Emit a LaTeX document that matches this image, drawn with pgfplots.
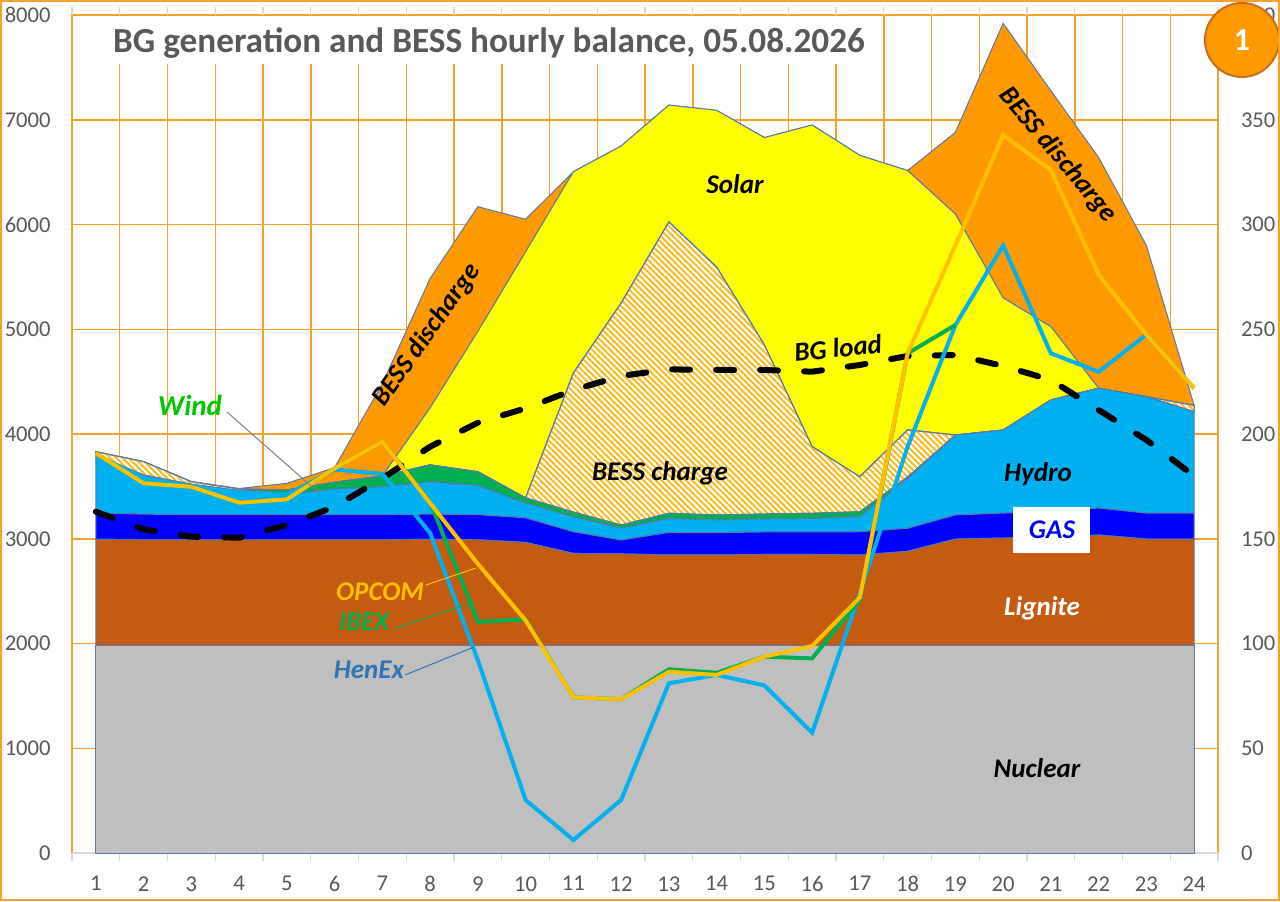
\documentclass[border=0pt]{standalone}
\usepackage{pgfplots}
\pgfplotsset{compat=1.18}
\usepackage{pgfplotstable}
\usepackage{fontspec}
\setmainfont{Carlito}
\usetikzlibrary{patterns.meta}

\definecolor{gridc}{RGB}{245,162,45}
\definecolor{nuc}{RGB}{191,191,191}
\definecolor{lig}{RGB}{197,90,17}
\definecolor{gas}{RGB}{0,0,255}
\definecolor{hyd}{RGB}{0,176,240}
\definecolor{wnd}{RGB}{0,176,80}
\definecolor{sol}{RGB}{255,255,0}
\definecolor{dis}{RGB}{255,153,0}
\definecolor{chg}{RGB}{250,188,35}
\definecolor{edge}{RGB}{90,120,170}
\definecolor{opcom}{RGB}{255,192,0}
\definecolor{ibex}{RGB}{0,176,80}
\definecolor{henex}{RGB}{0,176,240}
\definecolor{henextxt}{RGB}{46,117,182}
\definecolor{windtxt}{RGB}{0,200,0}
\definecolor{txtgray}{RGB}{89,89,89}
\definecolor{tickgray}{RGB}{217,217,217}
\definecolor{circedge}{RGB}{197,110,30}

% hourly generation by source, MW
\pgfplotstableread{
h nuc lig gas hyd wnd chg sol dis
1 1980 1015 250 555 0 31 0 0
2 1980 1010 245 358 15 128 0 0
3 1980 1010 240 283 7 25 0 0
4 1980 1010 240 220 10 15 0 5
5 1980 1010 240 197 38 0 0 64
6 1980 1010 240 245 64 0 0 141
7 1980 1010 240 267 103 0 0 880
8 1980 1015 240 310 160 0 545 1236
9 1980 1010 240 280 130 0 1340 1190
10 1980 985 235 140 50 0 2350 310
11 1980 880 207 143 45 1327 1922 0
12 1980 875 133 112 31 2119 1500 0
13 1980 865 215 135 48 2781 1116 0
14 1980 865 213 121 48 2367 1496 0
15 1980 870 215 125 46 1614 1980 0
16 1980 870 215 130 48 636 3071 0
17 1980 865 222 144 47 334 3068 0
18 1980 900 220 477 13 450 2475 0
19 1980 1017 230 763 0 0 2110 780
20 1980 1027 238 793 0 0 1262 2621
21 1980 1030 248 1067 0 0 699 2253
22 1980 1056 257 1144 0 0 0 2203
23 1980 1017 248 1111 0 0 0 1444
24 1980 1017 248 968 0 60 0 0
}\gen

% BG load (MW) and prices (EUR/MWh)
\pgfplotstableread{
h load opcom ibex henex
1 3258 190.8 190.8 190
2 3090 176.5 176.5 179
3 3020 174.8 174.8 175
4 3010 167.2 167.2 172
5 3130 168.8 168.8 171
6 3306 183.6 183.6 183
7 3577 196.3 196.3 181
8 3879 167 167.5 152.7
9 4108 138 110.4 92
10 4245 111 111.5 25.3
11 4420 74.3 74.3 6.2
12 4554 73.4 73.4 25.3
13 4617 86.5 87.7 81
14 4611 85 86 85
15 4611 93.7 93.7 80
16 4595 98.8 92.9 57.4
17 4659 122 121 124
18 4745 238.5 238.5 194
19 4754 290 252 252
20 4650 342.7 nan 290
21 4516 326 nan 238.5
22 4229 276 nan 229.7
23 3943 247.4 nan 247.4
24 3600 221.8 nan 221.8
}\lines

\pgfplotsset{
  myaxis/.style={at={(36pt,24pt)}, anchor=south west, scale only axis,
    width=573pt, height=419pt, xmin=0.5, xmax=24.5},
  area/.style={draw=edge, line width=0.5pt},
}
\newcommand\af{\fontsize{13.5}{16}\selectfont\bfseries\itshape}

\begin{document}
\begin{tikzpicture}[x=0.5pt,y=0.5pt]
\useasboundingbox (0,0) rectangle (1280,901);
\fill[white] (0,0) rectangle (1280,901);

% ---------- stacked areas ----------
\begin{axis}[myaxis, ymin=0, ymax=8000,
  stack plots=y,
  xtick={1,...,24}, minor xtick={0.5,1.5,...,24.5},
  ytick={0,1000,...,8000},
  ymajorgrids, xminorgrids,
  major grid style={draw=gridc, line width=0.75pt},
  minor grid style={draw=gridc, line width=0.75pt},
  axis line style={draw=none},
  major tick length=0pt, minor tick length=4pt, tick align=outside,
  minor tick style={draw=tickgray, line width=0.7pt},
  tick label style={font=\fontsize{11.3}{13}\selectfont, text=txtgray, inner sep=0pt},
  /pgf/number format/assume math mode=true,
  /pgf/number format/1000 sep={},
  xticklabel style={anchor=north, yshift=-11.5pt},
  yticklabel style={anchor=east, xshift=-10.5pt},
]
\addplot[area, fill=nuc] table[x=h,y=nuc]{\gen} \closedcycle;
\addplot[area, fill=lig] table[x=h,y=lig]{\gen} \closedcycle;
\addplot[area, fill=gas] table[x=h,y=gas]{\gen} \closedcycle;
\addplot[area, fill=hyd] table[x=h,y=hyd]{\gen} \closedcycle;
\addplot[area, fill=wnd] table[x=h,y=wnd]{\gen} \closedcycle;
\addplot[area, fill=white, postaction={pattern={Lines[angle=-45,distance=2.15pt,line width=1.05pt]},pattern color=chg}] table[x=h,y=chg]{\gen} \closedcycle;
\addplot[area, fill=sol] table[x=h,y=sol]{\gen} \closedcycle;
\addplot[area, fill=dis] table[x=h,y=dis]{\gen} \closedcycle;
\draw[tickgray, line width=0.8pt] (rel axis cs:0,0) -- (rel axis cs:1,0);
\end{axis}

% ---------- BG load ----------
\begin{axis}[myaxis, ymin=0, ymax=8000, hide axis]
\addplot[black, line width=3pt, line cap=round, dash pattern=on 9pt off 13pt] table[x=h,y=load]{\lines};
\end{axis}

% ---------- prices, right axis ----------
\begin{axis}[myaxis, ymin=0, ymax=400,
  axis y line*=right, axis x line=none,
  axis line style={draw=none},
  ytick={0,50,...,400}, major tick length=0pt,
  tick label style={font=\fontsize{11.3}{13}\selectfont, text=txtgray, inner sep=0pt},
  /pgf/number format/assume math mode=true,
  yticklabel style={anchor=west, xshift=11.3pt},
]
\addplot[henex, line width=2pt] table[x=h,y=henex]{\lines};
\addplot[ibex, line width=2pt] table[x=h,y=ibex]{\lines};
\addplot[opcom, line width=2pt] table[x=h,y=opcom]{\lines};
\end{axis}

% ---------- title ----------
\fill[white] (73,837) rectangle (870,885);
\node[font=\fontsize{17.6}{21}\selectfont\bfseries, text=txtgray] at (489,858) {BG generation and BESS hourly balance, 05.08.2026};

% ---------- badge ----------
\draw[fill=dis, draw=circedge, line width=1pt] (1242,861) circle (37);
\node[font=\fontsize{16}{19}\selectfont\bfseries, text=white] at (1242,861) {1};

% ---------- annotations ----------
\node[font=\af] at (735,717) {Solar};
\node[font=\af, rotate=55] at (427,566) {BESS discharge};
\node[font=\af, rotate=-50] at (1058,746) {BESS discharge};
\node[font=\af, rotate=6] at (838,553) {BG load};
\node[font=\af] at (660,428) {BESS charge};
\node[font=\af] at (1038,427) {Hydro};
\fill[white] (1013,348) rectangle (1090,394);
\node[font=\af, text=gas] at (1052,371) {GAS};
\node[font=\af, text=white] at (1042,293) {Lignite};
\node[font=\af] at (1037,133) {Nuclear};
\node[font=\fontsize{14.5}{17}\selectfont\bfseries\itshape, text=windtxt] at (190,496) {Wind};
\draw[gray, line width=0.5pt] (227,489) -- (319,408);
\node[font=\af, text=opcom] at (380,309) {OPCOM};
\draw[opcom, line width=0.5pt] (426,316) -- (476,333);
\node[font=\af, text=ibex] at (364,279) {IBEX};
\draw[ibex, line width=0.5pt] (396,273) -- (474,299);
\node[font=\af, text=henextxt] at (369,231) {HenEx};
\draw[henextxt, line width=0.5pt] (405,226) -- (474,254);

% ---------- outer frame ----------
\draw[gridc, line width=1pt] (1,1) rectangle (1279,900);
\end{tikzpicture}
\end{document}
